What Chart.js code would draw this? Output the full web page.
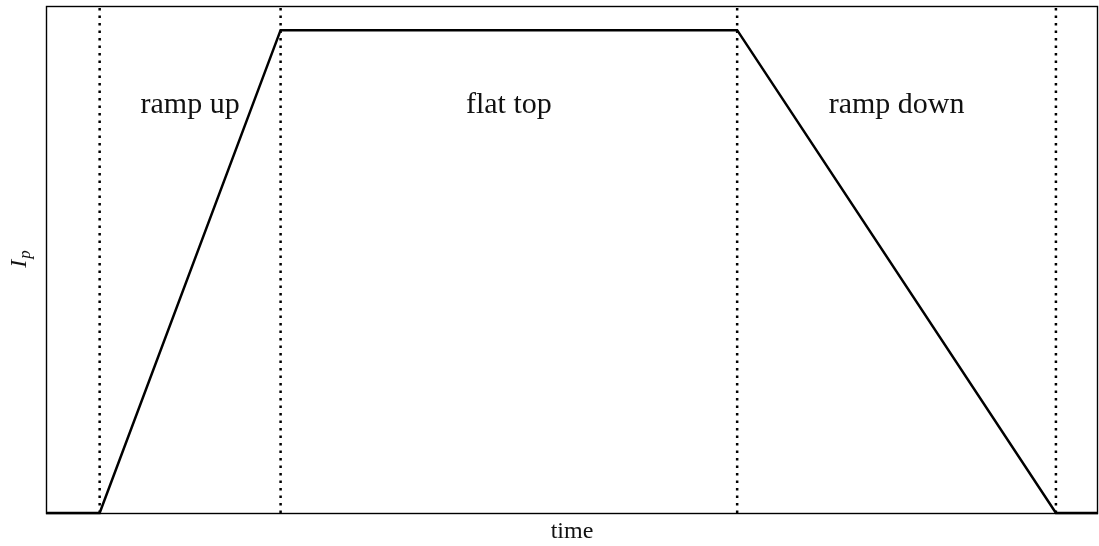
<!DOCTYPE html>
<html>
<head>
<meta charset="utf-8">
<script src="https://cdn.jsdelivr.net/npm/chart.js@4"></script>
<style>
  html, body { margin: 0; padding: 0; background: #fff; }
  #wrap { width: 1099px; height: 546px; }
</style>
</head>
<body>
<div id="wrap"><canvas id="ipChart"></canvas></div>
<script>
// plasma current waveform (normalised units)
var times = [0, 0.51, 2.23, 6.57, 9.6, 10];
var current = [0, 0, 1, 1, 0, 0];

// phase boundaries and their labels
var phaseEdges = [0.51, 2.23, 6.57, 9.6];
var phaseNames = ["ramp up", "flat top", "ramp down"];
var labelLevel = 0.845;

var xMin = 0, xMax = 10, yMin = 0, yMax = 1.05;
var serif = "'Liberation Serif', 'DejaVu Serif', serif";

var datasets = [{
  data: times.map(function (t, i) { return { x: t, y: current[i] }; }),
  borderColor: "#000",
  borderWidth: 2.5,
  pointRadius: 0,
  tension: 0,
  clip: false
}];

// dotted markers at each phase boundary
for (var i = 0; i < phaseEdges.length; i++) {
  datasets.push({
    data: [{ x: phaseEdges[i], y: yMax }, { x: phaseEdges[i], y: yMin }],
    borderColor: "#000",
    borderWidth: 2.5,
    borderDash: [2.5, 5],
    borderDashOffset: -2,
    pointRadius: 0
  });
}

var annotate = {
  id: "annotate",
  afterDatasetsDraw: function (chart) {
    var ctx = chart.ctx;
    var a = chart.chartArea;
    var xs = chart.scales.x, ys = chart.scales.y;
    ctx.save();
    // frame
    ctx.strokeStyle = "#000";
    ctx.lineWidth = 1.4;
    ctx.strokeRect(a.left + 0.5, a.top + 0.5, a.right - a.left - 1, a.bottom - a.top);

    ctx.fillStyle = "#111";
    ctx.textAlign = "center";
    ctx.textBaseline = "middle";
    ctx.font = "30px " + serif;
    for (var k = 0; k < phaseNames.length; k++) {
      var mid = (phaseEdges[k] + phaseEdges[k + 1]) / 2;
      ctx.fillText(phaseNames[k], xs.getPixelForValue(mid), ys.getPixelForValue(labelLevel));
    }

    // axis titles
    ctx.font = "24px " + serif;
    ctx.fillText("time", (a.left + a.right) / 2, a.bottom + 19);

    ctx.translate(22, (a.top + a.bottom) / 2);
    ctx.rotate(-Math.PI / 2);
    ctx.textAlign = "left";
    ctx.font = "italic 24px " + serif;
    var w1 = ctx.measureText("I").width;
    ctx.font = "italic 17px " + serif;
    var w2 = ctx.measureText("p").width;
    var x0 = -(w1 + w2) / 2;
    ctx.font = "italic 24px " + serif;
    ctx.fillText("I", x0, -2);
    ctx.font = "italic 17px " + serif;
    ctx.fillText("p", x0 + w1 + 1, 4);
    ctx.restore();
  }
};

new Chart(document.getElementById("ipChart"), {
  type: "line",
  data: { datasets: datasets },
  options: {
    responsive: true,
    maintainAspectRatio: false,
    animation: false,
    layout: { padding: { left: 46, top: 6, right: 1, bottom: 33 } },
    plugins: { legend: { display: false }, tooltip: { enabled: false } },
    scales: {
      x: { type: "linear", min: xMin, max: xMax, display: false },
      y: { type: "linear", min: yMin, max: yMax, display: false }
    }
  },
  plugins: [annotate]
});
</script>
</body>
</html>
